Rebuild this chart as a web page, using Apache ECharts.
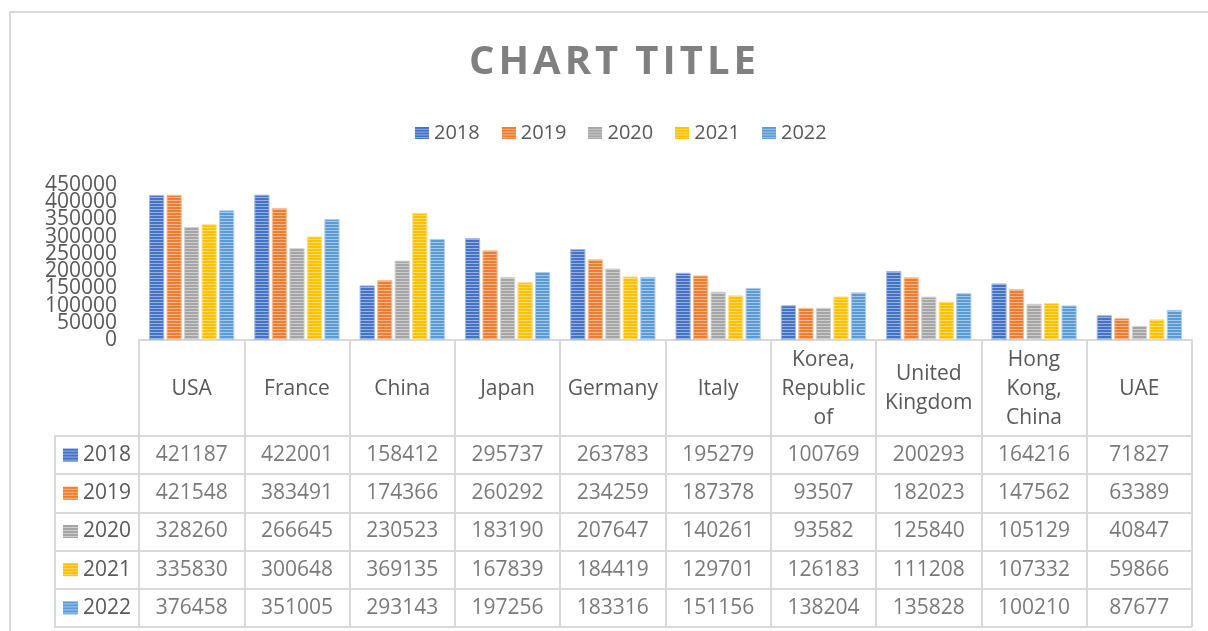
<!DOCTYPE html>
<html>
<head>
<meta charset="utf-8">
<script src="https://cdn.jsdelivr.net/npm/echarts@6/dist/echarts.min.js"></script>
<style>
  html, body { margin: 0; padding: 0; background: #fff; }
  #main { width: 1208px; height: 631px; }
</style>
</head>
<body>
<div id="main"></div>
<script>
// data
const countries = ['USA', 'France', 'China', 'Japan', 'Germany', 'Italy', 'Korea,\nRepublic\nof', 'United\nKingdom', 'Hong\nKong,\nChina', 'UAE'];
const years = ['2018', '2019', '2020', '2021', '2022'];
const v2018 = [421187, 422001, 158412, 295737, 263783, 195279, 100769, 200293, 164216, 71827];
const v2019 = [421548, 383491, 174366, 260292, 234259, 187378, 93507, 182023, 147562, 63389];
const v2020 = [328260, 266645, 230523, 183190, 207647, 140261, 93582, 125840, 105129, 40847];
const v2021 = [335830, 300648, 369135, 167839, 184419, 129701, 126183, 111208, 107332, 59866];
const v2022 = [376458, 351005, 293143, 197256, 183316, 151156, 138204, 135828, 100210, 87677];
const yTickLabels = ['0', '50000', '100000', '150000', '200000', '250000', '300000', '350000', '400000', '450000'];
const yMin = 0, yMax = 450000, yStep = 50000;

const values = [v2018, v2019, v2020, v2021, v2022];
const colors = ['#4472C4', '#ED7D31', '#A5A5A5', '#FFC000', '#5B9BD5'];
const lineColor = '#d9d9d9';
const textColor = '#595959';
const font = 'Open Sans';

function lighten(hex, t) {
    const n = parseInt(hex.slice(1), 16);
    const r = n >> 16, g = (n >> 8) & 255, b = n & 255;
    const m = c => Math.round(c + (255 - c) * t);
    return 'rgb(' + m(r) + ',' + m(g) + ',' + m(b) + ')';
}

// narrow horizontal stripes, like the excel pattern fill
function stripes(color, w, h) {
    const c = document.createElement('canvas');
    c.width = w; c.height = h;
    const ctx = c.getContext('2d');
    ctx.fillStyle = color;
    ctx.fillRect(0, 0, w, h);
    ctx.fillStyle = lighten(color, 0.45);
    for (let y = 2; y < h; y += 3) ctx.fillRect(0, y, w, 1);
    return c;
}

const swatches = colors.map(c => stripes(c, 15, 13).toDataURL());

const chart = echarts.init(document.getElementById('main'));

const series = [];
years.forEach((y, i) => {
    series.push({
        name: y,
        type: 'bar',
        xAxisIndex: 0,
        yAxisIndex: 0,
        data: values[i],
        barCategoryGap: '19%',
        barGap: '15%',
        itemStyle: {
            color: { image: stripes(colors[i], 4, 3), repeat: 'repeat' },
            borderColor: lighten(colors[i], 0.5),
            borderWidth: 1
        }
    });
});

// table cells: one invisible point per cell carrying the number as label
const cells = [];
values.forEach((arr, yi) => arr.forEach((v, ci) => cells.push([ci, yi, v])));
series.push({
    type: 'scatter',
    xAxisIndex: 1,
    yAxisIndex: 1,
    data: cells,
    symbol: 'circle',
    symbolSize: 2,
    itemStyle: { color: 'rgba(0,0,0,0)' },
    silent: true,
    labelLayout: { hideOverlap: false },
    label: {
        show: true,
        position: 'inside',
        formatter: p => String(p.data[2]),
        color: textColor,
        fontFamily: font,
        fontSize: 21
    }
});

const rich = { t: { color: textColor, fontFamily: font, fontSize: 21, padding: [0, 0, 0, 5] } };
years.forEach((y, i) => {
    rich['b' + i] = { width: 15, height: 13, backgroundColor: { image: swatches[i] } };
});

const option = {
    animation: false,
    title: {
        text: 'C\u200AH\u200AA\u200AR\u200AT\u2009 T\u200AI\u200AT\u200AL\u200AE',
        left: 464,
        top: 38,
        textStyle: { color: '#808080', fontFamily: font, fontWeight: 'bold', fontSize: 40 }
    },
    legend: {
        data: years.map((y, i) => ({ name: y, icon: 'image://' + swatches[i] })),
        left: 410,
        top: 118,
        itemWidth: 14,
        itemHeight: 14,
        itemGap: 22,
        textStyle: { color: textColor, fontFamily: font, fontSize: 20 }
    },
    graphic: [{
        type: 'rect',
        shape: { x: 10, y: 12, width: 1210, height: 640 },
        style: { fill: 'none', stroke: lineColor, lineWidth: 2 },
        silent: true
    }],
    grid: [
        { left: 139, right: 16, top: 185, bottom: 291 },
        { left: 139, right: 16, top: 436, bottom: 4 }
    ],
    xAxis: [{
        type: 'category',
        gridIndex: 0,
        data: countries,
        axisLine: { lineStyle: { color: lineColor, width: 2 } },
        axisTick: { show: true, interval: 0, length: 96, lineStyle: { color: lineColor, width: 2 } },
        axisLabel: {
            interval: 0,
            margin: 49,
            verticalAlign: 'middle',
            lineHeight: 29,
            color: textColor,
            fontFamily: font,
            fontSize: 21
        }
    }, {
        type: 'category',
        gridIndex: 1,
        data: countries,
        axisLine: { show: false },
        axisTick: { show: false },
        axisLabel: { show: false },
        splitLine: { show: true, interval: 0, showMinLine: true, showMaxLine: true, lineStyle: { color: lineColor, width: 2 } }
    }],
    yAxis: [{
        type: 'value',
        gridIndex: 0,
        min: yMin,
        max: yMax,
        interval: yStep,
        axisLine: { show: false },
        axisTick: { show: false },
        splitLine: { show: false },
        axisLabel: { show: false }
    }, {
        type: 'category',
        gridIndex: 1,
        data: years,
        inverse: true,
        axisLine: { show: false },
        axisTick: { show: true, interval: 0, length: 84, lineStyle: { color: lineColor, width: 2 } },
        splitLine: { show: true, interval: 0, showMinLine: true, showMaxLine: true, lineStyle: { color: lineColor, width: 2 } },
        axisLabel: {
            margin: 8,
            formatter: (v, i) => '{b' + i + '|}{t|' + v + '}',
            rich: rich
        }
    }, {
        // left border of the table's key column
        type: 'category',
        gridIndex: 1,
        data: years,
        position: 'left',
        offset: 84,
        axisLine: { show: true, lineStyle: { color: lineColor, width: 2 } },
        axisTick: { show: false },
        axisLabel: { show: false }
    }, {
        // tick labels of the value axis; excel prints them all even though they crowd
        type: 'category',
        gridIndex: 0,
        data: yTickLabels,
        boundaryGap: false,
        position: 'left',
        axisLine: { show: false },
        axisTick: { show: false },
        axisLabel: { interval: 0, margin: 22, color: textColor, fontFamily: font, fontSize: 21 }
    }],
    series: series
};

chart.setOption(option);
</script>
</body>
</html>
